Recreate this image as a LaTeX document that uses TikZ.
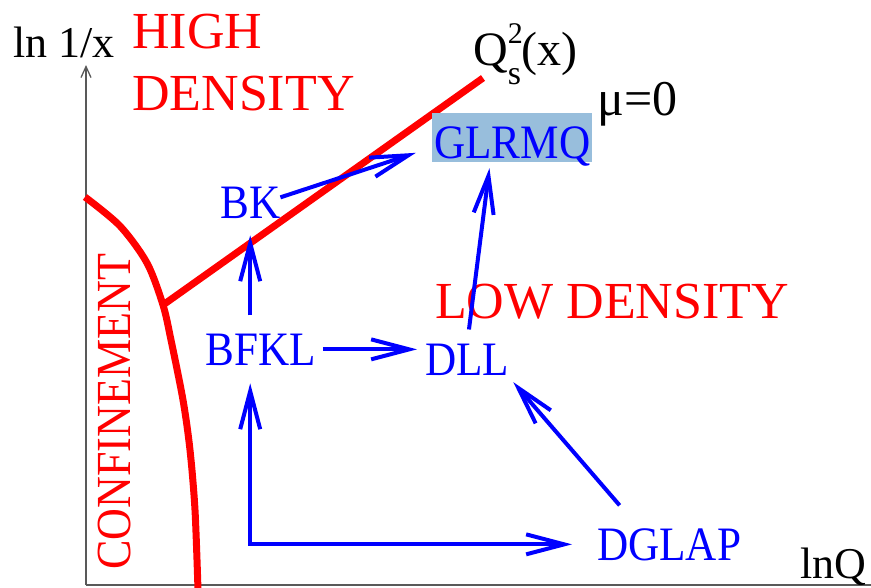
\documentclass[tikz,border=0pt]{standalone}
\usepackage{fontspec}
\setmainfont{Liberation Serif}
\newfontfamily\narrowfont[FakeStretch=0.9]{Liberation Serif}
\usepackage{xcolor}
\usetikzlibrary{arrows.meta}

\definecolor{boxblue}{RGB}{152,190,220}

\begin{document}
\begin{tikzpicture}[x=1pt,y=-1pt,
    >={Straight Barb[length=38pt,width=20pt]},
    eqn/.style={font=\narrowfont\fontsize{48}{48}\selectfont, text=blue, inner sep=0pt, anchor=base west},
    region/.style={font=\fontsize{52}{52}\selectfont, text=red, inner sep=0pt, anchor=base west},
    axlabel/.style={font=\fontsize{44}{44}\selectfont, inner sep=0pt, anchor=base west},
    flow/.style={blue, line width=4pt},
    border/.style={red, line width=7pt}]
      \useasboundingbox (0,0) rectangle (871,587);
      % axes
      \coordinate (O) at (86,585);
      \coordinate (Y) at (86,65);
      \coordinate (X) at (871,585);
      \draw [gray!70!black, line width=1.3pt, -{Straight Barb[length=11pt,width=10pt]}] (O) to (Y);
      \draw [gray!70!black, line width=1.3pt] (O) to (X);
      \node [axlabel] (lnx) at (13,57) {ln 1/x};
      \node [axlabel] (lnQ) at (800,578) {lnQ};
      % regions
      \coordinate (J) at (163,305);
      \coordinate (S) at (483,78);
      \draw [border] plot [smooth] coordinates {(85,197) (120,226) (147,263) (163,305) (171,340) (183,400) (190,450) (195,510) (198,590)};
      \draw [border] (J) to (S);
      \node [region] (high) at (132,48) {HIGH};
      \node [region] (dens) at (132,110) {DENSITY};
      \node [region] (low) at (435,318) {LOW DENSITY};
      \node [region, font=\narrowfont\fontsize{49}{49}\selectfont, rotate=90] (conf) at (130,570) {CONFINEMENT};
      \node [axlabel, font=\fontsize{48}{48}\selectfont] (Qs) at (473,65) {Q\rlap{\raisebox{22pt}{\fontsize{30}{30}\selectfont 2}}\raisebox{-19pt}{\fontsize{34}{34}\selectfont s}(x)};
      \node [axlabel, font=\fontsize{50}{50}\selectfont] (mu) at (597,115) {μ=0};
      % evolution equations
      \node [eqn] (BK) at (220,218) {BK};
      \node [eqn] (BFKL) at (205,365) {BFKL};
      \node [eqn] (DLL) at (425,375) {DLL};
      \node [eqn] (DGLAP) at (597,560) {DGLAP};
      \node [eqn, fill=boxblue, inner xsep=2pt, inner ysep=4pt, text height=41pt, text depth=0pt] (GLRMQ) at (432,158) {GLRMQ};
      \draw [flow, ->, shorten <=18pt, shorten >=17pt] (BFKL.north -| BK.south) to (BK.south);
      \draw [flow, ->, shorten <=7pt, shorten >=8pt] (BFKL.east) to (BFKL.east -| DLL.west);
      \draw [flow, <->, shorten <=18pt, shorten >=25pt] (BFKL.south -| BK.south) |- (DGLAP.west);
      \draw [flow, ->, shorten <=30pt, shorten >=9pt] ([xshift=-30pt]DGLAP.north) to ([xshift=-2pt]DLL.south east);
      \draw [flow, ->, shorten <=14pt, shorten >=6pt] (DLL.north) to ([xshift=-22pt]GLRMQ.south);
      \draw [flow, ->, shorten >=17pt] ([yshift=5pt]BK.east) to ([yshift=-10pt]GLRMQ.west);
    \end{tikzpicture}
\end{document}
